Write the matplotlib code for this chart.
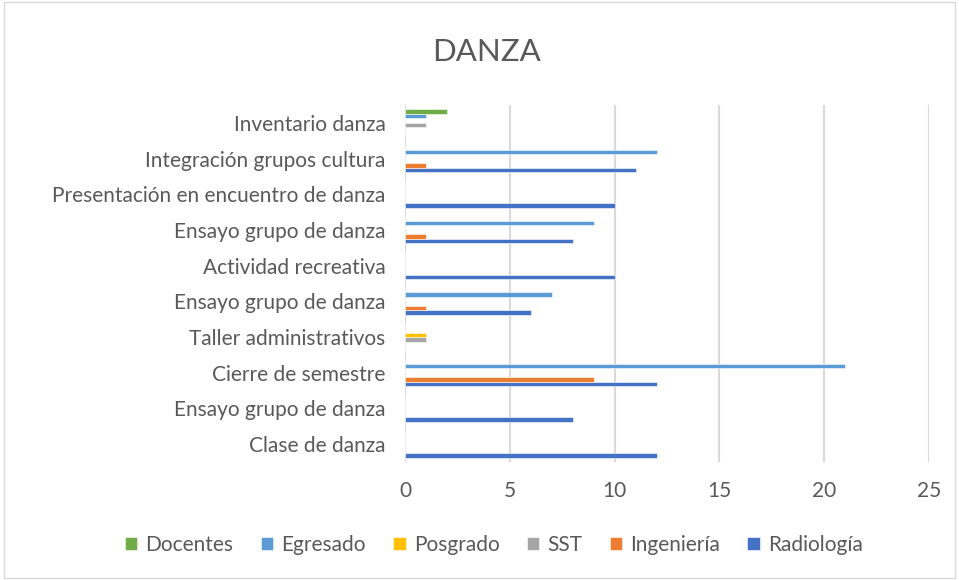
import numpy as np
import matplotlib.pyplot as plt
from matplotlib.patches import Rectangle

plt.rcParams['font.family'] = ['Lato', 'DejaVu Sans']

# categories bottom -> top
categories = ["Clase de danza", "Ensayo grupo de danza", "Cierre de semestre",
              "Taller administrativos", "Ensayo grupo de danza", "Actividad recreativa",
              "Ensayo grupo de danza", "Presentación en encuentro de danza",
              "Integración grupos cultura", "Inventario danza"]

radiologia = [12, 8, 12, 0, 6, 10, 8, 10, 11, 0]
ingenieria = [0, 0, 9, 0, 1, 0, 1, 0, 1, 0]
sst = [0, 0, 0, 1, 0, 0, 0, 0, 0, 1]
posgrado = [0, 0, 0, 1, 0, 0, 0, 0, 0, 0]
egresado = [0, 0, 21, 0, 7, 0, 9, 0, 12, 1]
docentes = [0, 0, 0, 0, 0, 0, 0, 0, 0, 2]

series = [("Radiología", radiologia, "#4472C4"),
          ("Ingeniería", ingenieria, "#ED7D31"),
          ("SST", sst, "#A5A5A5"),
          ("Posgrado", posgrado, "#FFC000"),
          ("Egresado", egresado, "#5B9BD5"),
          ("Docentes", docentes, "#70AD47")]

text_col = "#595959"

fig = plt.figure(figsize=(9.59, 5.8), dpi=100)
fig.patches.append(Rectangle((0.004, 0.004), 0.992, 0.992, transform=fig.transFigure,
                             fill=False, edgecolor="#D9D9D9", linewidth=1))
ax = fig.add_axes([0.4223, 0.2034, 0.5464, 0.6155])

y = np.arange(len(categories))
h = 0.126
bars = []
for i, (name, vals, col) in enumerate(series):
    b = ax.barh(y + (i - 2.5) * h, vals, height=h, color=col, label=name,
                edgecolor="white", linewidth=0.4)
    bars.append(b)

ax.set_xlim(0, 25)
ax.set_ylim(-0.5, len(categories) - 0.5)
ax.set_xticks(range(0, 26, 5))
ax.set_yticks(y)
ax.set_yticklabels(categories)
ax.tick_params(axis='both', length=0, labelsize=15, colors=text_col)
ax.tick_params(axis='y', pad=14)
ax.tick_params(axis='x', pad=14)
ax.grid(axis='x', color="#D9D9D9", linewidth=1.5)
ax.set_axisbelow(True)
for s in ax.spines.values():
    s.set_visible(False)

fig.text(0.507, 0.91, "DANZA", ha='center', va='center', fontsize=22.5, color=text_col)

handles = bars[::-1]
fig.legend(handles, [s[0] for s in series][::-1], loc='center', bbox_to_anchor=(0.515, 0.06),
           ncol=6, frameon=False, fontsize=15, handlelength=0.6, handleheight=0.6,
           handletextpad=0.4, columnspacing=1.3, labelcolor=text_col)

fig.savefig("out.png", dpi=100)
